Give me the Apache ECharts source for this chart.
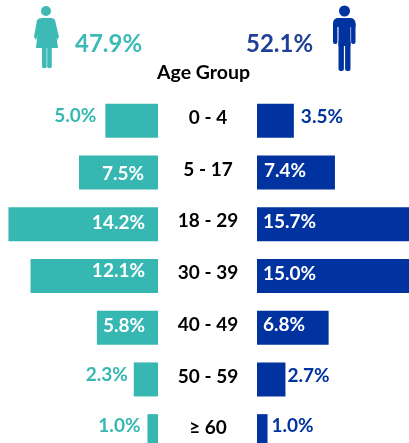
<!DOCTYPE html>
<html>
<head>
<meta charset="utf-8">
<style>html,body{margin:0;padding:0;background:#fff;overflow:hidden}#main{width:430px;height:470px}</style>
<script src="https://cdn.jsdelivr.net/npm/echarts@6/dist/echarts.min.js"></script>
</head>
<body>
<div id="main"></div>
<script>
var ageGroups = ['0 - 4', '5 - 17', '18 - 29', '30 - 39', '40 - 49', '50 - 59', '≥ 60'];
var femaleShare = [5.0, 7.5, 14.2, 12.1, 5.8, 2.3, 1.0];
var maleShare = [3.5, 7.4, 15.7, 15.0, 6.8, 2.7, 1.0];
var femaleTotal = '47.9%';
var maleTotal = '52.1%';
var axisTitle = 'Age Group';

// the labels in the original sit a few px off each bar's centre: [dx, dy]
var femaleNudge = [[-1, -5], [-1, 1], [0, -1], [0, -5], [0, -2], [2, -5], [1, -5]];
var maleNudge = [[2, -4], [0, -2], [-1, -2], [-1, -2], [-1, -3], [-3, -4], [-1, -5]];

var TEAL = '#36b7b2';
var ICON_TEAL = '#3dbab5';
var BLUE = '#0033a0';
var TOTAL_BLUE = '#1f3f99';
var FONT = 'Lato';

// bars at or under this share carry their label outside
var outsideBelow = { female: 5, male: 3.5 };

function barLabel(value, side, nudge) {
  var outside = value <= outsideBelow[side];
  var female = side === 'female';
  return {
    show: true,
    position: outside ? (female ? 'left' : 'right') : (female ? 'insideRight' : 'insideLeft'),
    distance: outside ? (female ? 8 : 5) : (female ? 13 : 7),
    offset: nudge,
    color: outside ? (female ? TEAL : BLUE) : '#fff',
    fontFamily: FONT,
    fontWeight: 'bold',
    fontSize: 19,
    formatter: function (p) { return p.value.toFixed(1) + '%'; }
  };
}

function barData(values, side, nudges) {
  return values.map(function (v, i) {
    return { value: v, label: barLabel(v, side, nudges[i]) };
  });
}

function rect(x, y, w, h, r, fill) {
  return { type: 'rect', shape: { x: x, y: y, width: w, height: h, r: r }, style: { fill: fill } };
}

function femaleIcon() {
  var c = ICON_TEAL;
  return [
    { type: 'circle', shape: { cx: 46, cy: 11, r: 5 }, style: { fill: c } },
    { type: 'polygon', shape: { points: [[41, 18], [52, 18], [54, 20], [58, 48], [36, 48], [39, 20]] }, style: { fill: c } },
    { type: 'polygon', shape: { points: [[40, 18], [37, 20], [34, 37], [36, 40], [41, 25]] }, style: { fill: c } },
    { type: 'polygon', shape: { points: [[53, 18], [55, 20], [59, 37], [57, 40], [52, 25]] }, style: { fill: c } },
    rect(42, 46, 4.6, 22, 1.5, c),
    rect(47.2, 46, 4.6, 22, 1.5, c)
  ];
}

function maleIcon() {
  var c = BLUE;
  return [
    { type: 'circle', shape: { cx: 344.5, cy: 11, r: 5.5 }, style: { fill: c } },
    rect(333, 18, 22.5, 9, [5, 5, 0, 0], c),
    rect(333, 22, 4.4, 22, 2, c),
    rect(351.1, 22, 4.4, 22, 2, c),
    rect(338.5, 22, 12, 24, 0, c),
    rect(338.5, 40, 5.4, 31, 2, c),
    rect(345.1, 40, 5.4, 31, 2, c)
  ];
}

var chart = echarts.init(document.getElementById('main'), null, { renderer: 'canvas' });
chart.setOption({
  animation: false,
  backgroundColor: '#fff',
  grid: [
    { left: 0, width: 158, top: 95, height: 362 },
    { left: 257, width: 158, top: 95, height: 362 }
  ],
  xAxis: [
    { gridIndex: 0, type: 'value', min: 0, max: 15, inverse: true, show: false },
    { gridIndex: 1, type: 'value', min: 0, max: 15, show: false }
  ],
  yAxis: [
    {
      gridIndex: 0, type: 'category', inverse: true, position: 'right', data: ageGroups,
      axisLine: { show: false }, axisTick: { show: false },
      axisLabel: {
        margin: 50, align: 'center', verticalAlign: 'bottom', lineHeight: 6, color: '#000',
        fontFamily: FONT, fontWeight: 'bold', fontSize: 19
      }
    },
    { gridIndex: 1, type: 'category', inverse: true, data: ageGroups, show: false }
  ],
  series: [
    {
      type: 'bar', xAxisIndex: 0, yAxisIndex: 0, barWidth: 34, clip: false,
      itemStyle: { color: TEAL }, data: barData(femaleShare, 'female', femaleNudge)
    },
    {
      type: 'bar', xAxisIndex: 1, yAxisIndex: 1, barWidth: 34, clip: false,
      itemStyle: { color: BLUE }, data: barData(maleShare, 'male', maleNudge)
    }
  ],
  graphic: femaleIcon().concat(maleIcon()).concat([
    { type: 'text', x: 75, y: 32, style: { text: femaleTotal, fill: ICON_TEAL, font: 'bold 24px ' + FONT } },
    { type: 'text', x: 246, y: 32, style: { text: maleTotal, fill: TOTAL_BLUE, font: 'bold 24px ' + FONT } },
    { type: 'text', x: 157, y: 63, style: { text: axisTitle, fill: '#000', font: 'bold 19.5px ' + FONT } }
  ])
});
</script>
</body>
</html>
